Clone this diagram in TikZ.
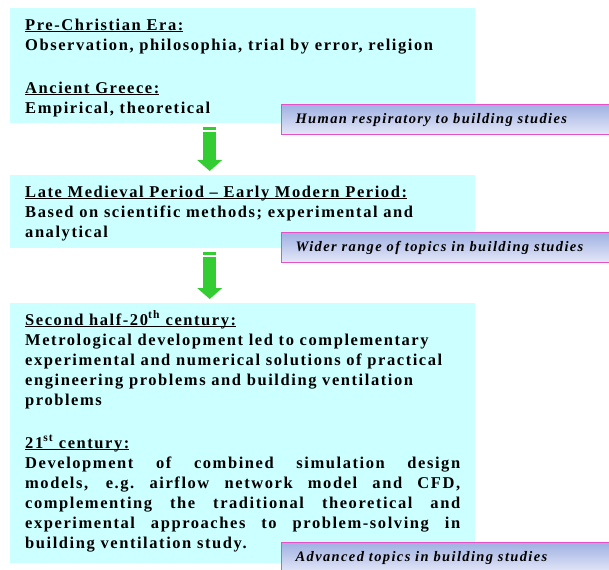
\documentclass[tikz,border=0pt]{standalone}
\usepackage{fontspec}
\setmainfont{Liberation Serif}[LetterSpace=9.5]
\usepackage{tikz}
\usetikzlibrary{arrows.meta,positioning}

\definecolor{eracyan}{RGB}{204,255,255}
\definecolor{topictop}{RGB}{160,176,226}
\definecolor{topicbottom}{RGB}{228,232,248}
\definecolor{topicpink}{RGB}{232,80,200}
\definecolor{stagegreen}{RGB}{51,204,51}

\newcommand{\erahead}[1]{\underline{\smash{#1}}}
\newcommand{\topstrut}{\rule{0pt}{22pt}}
\newcommand{\botstrut}[1]{\rule[-#1]{0pt}{#1}}

\begin{document}
\begin{tikzpicture}[x=1pt, y=-1pt]
    \tikzstyle{erabox} = [rectangle, fill=eracyan, anchor=north west, text width=435pt, inner xsep=15pt, inner ysep=0pt, align=justify, font=\fontsize{16.5pt}{20pt}\selectfont\bfseries]
    \tikzstyle{topicbox} = [rectangle, draw=topicpink, line width=1.2pt, top color=topictop, bottom color=topicbottom, anchor=north west, text width=310pt, minimum height=30pt, inner xsep=14pt, align=left, font=\fontsize{14.5pt}{16pt}\selectfont\bfseries\itshape]
    \tikzstyle{stagearrow} = [draw=stagegreen, line width=13pt, shorten <=4pt, shorten >=4pt, dash pattern=on 3pt off 1.2pt on 200pt off 0pt, -{Triangle[width=25pt, length=11pt, line width=0pt]}]

    \useasboundingbox (0,0) rectangle (609,569);

    % eras
    \node [erabox] (ancient) at (10,8) {\topstrut\erahead{Pre-Christian Era:}\\
        Observation, philosophia, trial by error, religion\\[23pt]
        \erahead{Ancient Greece:}\\
        Empirical, theoretical\botstrut{10pt}};
    \node [erabox] (medieval) at (10,175) {\topstrut\erahead{Late Medieval Period -- Early Modern Period:}\\
        Based on scientific methods; experimental and\\
        analytical\botstrut{11pt}};
    \node [erabox] (modern) at (10,303) {\topstrut\erahead{Second half-20\textsuperscript{th} century:}\\
        Metrological development led to complementary\\
        experimental and numerical solutions of practical\\
        engineering problems and building ventilation\\
        problems\\[23pt]
        \erahead{21\textsuperscript{st} century:}\\
        Development of combined simulation design\linebreak
        models, e.g.\ airflow network model and CFD,\linebreak
        complementing the traditional theoretical and\linebreak
        experimental approaches to problem-solving in\linebreak
        building ventilation study.\botstrut{15pt}};

    % topics
    \node [topicbox] (respiratory) at (281,104) {Human respiratory to building studies};
    \node [topicbox] (wider) at (281,232) {Wider range of topics in building studies};
    \node [topicbox] (advanced) at (281,542) {Advanced topics in building studies};

    \draw [stagearrow] ([xshift=-33pt]ancient.south) -- ([xshift=-33pt]medieval.north);
    \draw [stagearrow] ([xshift=-33pt]medieval.south) -- ([xshift=-33pt]modern.north);
\end{tikzpicture}
\end{document}
